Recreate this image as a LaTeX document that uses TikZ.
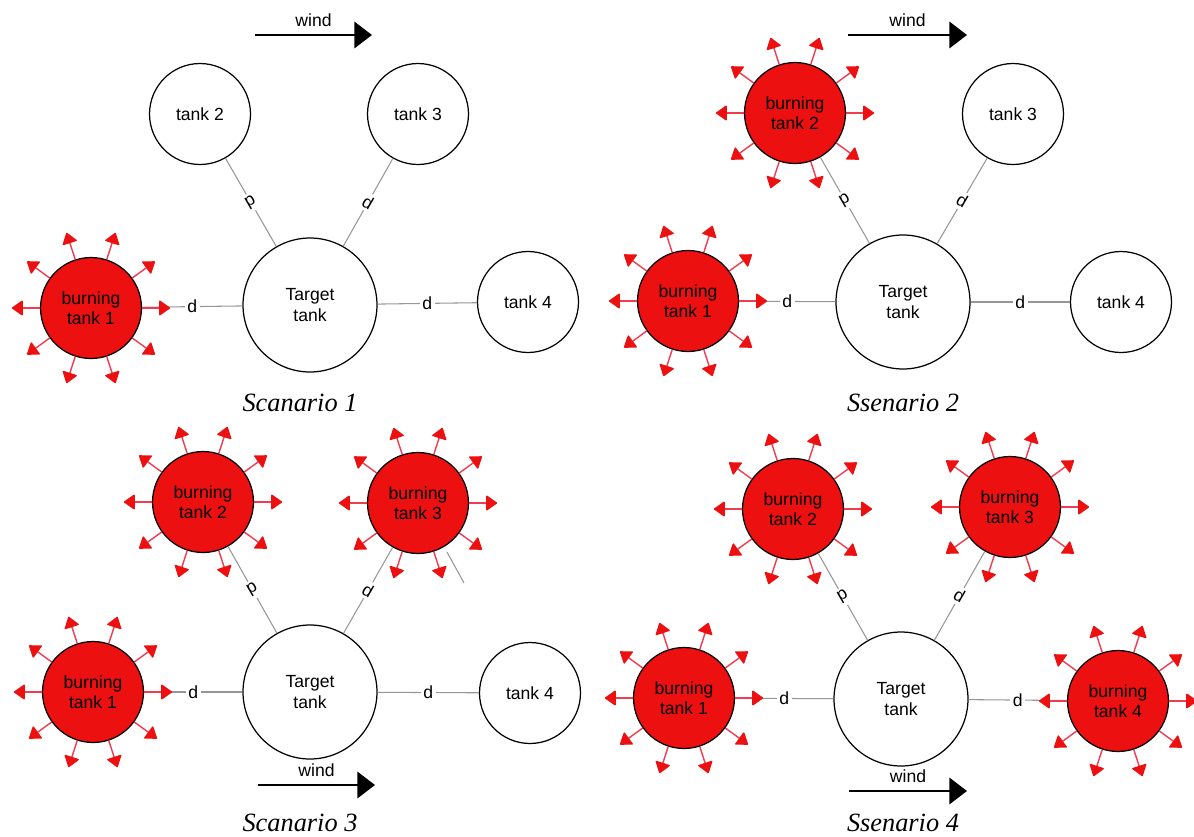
\documentclass[tikz,border=0pt]{standalone}
\usepackage{fontspec}
\setmainfont{Liberation Sans}
\newfontfamily\capfont{Liberation Serif}
\usetikzlibrary{arrows.meta}
\definecolor{firered}{RGB}{236,16,16}
\definecolor{flamered}{RGB}{240,60,80}
\definecolor{dgray}{RGB}{150,150,150}
\newcommand{\flames}[1]{%
  \foreach \a in {0,36,...,324}
    \draw[flame] (#1.\a) -- ++(\a:0.56cm);}

\begin{document}
\begin{tikzpicture}[x=0.02cm,y=-0.02cm,
    tank/.style={circle, draw, line width=0.7pt, fill=white, inner sep=0pt,
      minimum size=2.02cm, align=center, font=\fontsize{10}{11.5}\selectfont},
    target/.style={tank, minimum size=2.68cm},
    burning/.style={tank, fill=firered},
    flame/.style={flamered, line width=0.8pt, -{Triangle[length=6.5pt,width=9pt,round,color=firered]}},
    dline/.style={dgray, line width=0.6pt},
    dlabel/.style={text=black, fill=white, inner sep=1.5pt, font=\fontsize{10}{12}\selectfont},
    wind/.style={line width=1.1pt, -{Triangle[length=10pt,width=15pt]}},
    windlabel/.style={above=1pt, font=\fontsize{10}{12}\selectfont},
    caption/.style={font=\capfont\itshape\fontsize{15}{18}\selectfont}]
  \useasboundingbox (0,0) rectangle (1194,836);

  % scenario 1
  \node[tank] (s1t2) at (200,114) {tank 2};
  \node[tank] (s1t3) at (418,114) {tank 3};
  \node[target] (s1tt) at (310,305) {Target\\tank};
  \node[burning] (s1b1) at (91,308) {burning\\tank 1};
  \node[tank] (s1t4) at (528,302) {tank 4};
  \draw[dline] (s1b1) -- node[dlabel] {d} (s1tt);
  \draw[dline] (s1tt) -- node[dlabel] {d} (s1t4);
  \draw[dline] (s1t2) -- node[dlabel, rotate=-150] {d} (s1tt);
  \draw[dline] (s1tt) -- node[dlabel, rotate=-30] {d} (s1t3);
  \flames{s1b1}
  \coordinate (s1w1) at (255,35);
  \coordinate (s1w2) at (372,35);
  \draw[wind] (s1w1) -- node[windlabel] {wind} (s1w2);
  \node[caption] (s1cap) at (300,403) {Scanario 1};

  % scenario 2
  \node[burning] (s2b2) at (795,113) {burning\\tank 2};
  \node[tank] (s2t3) at (1013,114) {tank 3};
  \node[target] (s2tt) at (903,302) {Target\\tank};
  \node[burning] (s2b1) at (688,301) {burning\\tank 1};
  \node[tank] (s2t4) at (1121,302) {tank 4};
  \draw[dline] (s2b1) -- node[dlabel] {d} (s2tt);
  \draw[dline] (s2tt) -- node[dlabel] {d} (s2t4);
  \draw[dline] (s2b2) -- node[dlabel, rotate=-150] {d} (s2tt);
  \draw[dline] (s2tt) -- node[dlabel, rotate=-30] {d} (s2t3);
  \flames{s2b1}
  \flames{s2b2}
  \coordinate (s2w1) at (848,35);
  \coordinate (s2w2) at (967,35);
  \draw[wind] (s2w1) -- node[windlabel] {wind} (s2w2);
  \node[caption] (s2cap) at (903,403) {Ssenario 2};

  % scenario 3
  \node[burning] (s3b2) at (203,502) {burning\\tank 2};
  \node[burning] (s3b3) at (418,503) {burning\\tank 3};
  \node[target] (s3tt) at (310,692) {Target\\tank};
  \node[burning] (s3b1) at (93,692) {burning\\tank 1};
  \node[tank] (s3t4) at (530,693) {tank 4};
  \draw[dline] (s3b1) -- node[dlabel] {d} (s3tt);
  \draw[dline] (s3tt) -- node[dlabel] {d} (s3t4);
  \draw[dline] (s3b2) -- node[dlabel, rotate=-150] {d} (s3tt);
  \draw[dline] (s3tt) -- node[dlabel, rotate=-30] {d} (s3b3);
  \draw[dline] (447,552) -- (464,583);
  \flames{s3b1}
  \flames{s3b2}
  \flames{s3b3}
  \coordinate (s3w1) at (258,785);
  \coordinate (s3w2) at (375,785);
  \draw[wind] (s3w1) -- node[windlabel] {wind} (s3w2);
  \node[caption] (s3cap) at (300,823) {Scanario 3};

  % scenario 4
  \node[burning] (s4b2) at (793,509) {burning\\tank 2};
  \node[burning] (s4b3) at (1010,507) {burning\\tank 3};
  \node[target] (s4tt) at (901,699) {Target\\tank};
  \node[burning] (s4b1) at (684,698) {burning\\tank 1};
  \node[burning] (s4b4) at (1118,701) {burning\\tank 4};
  \draw[dline] (s4b1) -- node[dlabel] {d} (s4tt);
  \draw[dline] (s4tt) -- node[dlabel] {d} (s4b4);
  \draw[dline] (s4b2) -- node[dlabel, rotate=-150] {d} (s4tt);
  \draw[dline] (s4tt) -- node[dlabel, rotate=-30] {d} (s4b3);
  \flames{s4b1}
  \flames{s4b2}
  \flames{s4b3}
  \flames{s4b4}
  \coordinate (s4w1) at (849,791);
  \coordinate (s4w2) at (967,791);
  \draw[wind] (s4w1) -- node[windlabel] {wind} (s4w2);
  \node[caption] (s4cap) at (903,823) {Ssenario 4};
\end{tikzpicture}
\end{document}
